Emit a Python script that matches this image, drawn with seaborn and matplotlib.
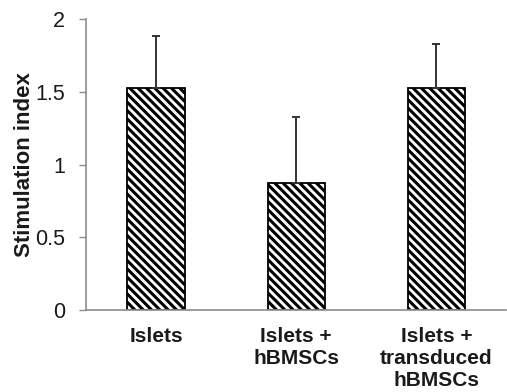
import matplotlib
matplotlib.use("Agg")
import matplotlib.pyplot as plt
import seaborn as sns
import pandas as pd
import numpy as np

categories = ["Islets", "Islets +\nhBMSCs", "Islets +\ntransduced\nhBMSCs"]
values = [1.525, 0.875, 1.525]
errors = [0.36, 0.45, 0.305]
yticks = [0, 0.5, 1, 1.5, 2]
ytick_labels = ["0", "0.5", "1", "1.5", "2"]

sns.set_theme(style="white")
plt.rcParams['font.family'] = ['Liberation Sans', 'DejaVu Sans']
plt.rcParams['hatch.linewidth'] = 2.2

df = pd.DataFrame({"group": categories, "value": values})

fig = plt.figure(figsize=(5.07, 3.92), dpi=100)
ax = fig.add_axes([86/507, 1-310/392, 1-86/507-0.001, (310-19)/392])

sns.barplot(data=df, x="group", y="value", ax=ax, color="white",
            edgecolor="black", linewidth=1.3, width=0.41, errorbar=None)
for p in ax.patches:
    p.set_hatch("\\\\\\\\")
    p.set_facecolor("white")
    p.set_edgecolor("black")

xs = np.arange(len(categories))
ax.errorbar(xs, values, yerr=[np.zeros(len(values)), errors], fmt="none",
            ecolor="#333333", elinewidth=1.4, capsize=3.2, capthick=1.4, zorder=3)

ax.set_xlim(-0.5, len(categories) - 0.5)
ax.set_ylim(0, 2)
ax.set_yticks(yticks)
ax.set_yticklabels(ytick_labels, fontsize=15.5, color="#1a1a1a")
ax.set_xticks(xs)
ax.set_xticklabels(categories, fontsize=15, fontweight="bold", color="#1a1a1a",
                   linespacing=1.22)
ax.set_xticks(np.arange(-0.5, len(categories)), minor=True)
ax.tick_params(axis="x", which="major", length=0, pad=12)
ax.tick_params(axis="x", which="minor", length=5, width=1, color="#8c8c8c", direction="out")
ax.tick_params(axis="y", which="major", length=5, width=1, color="#8c8c8c", direction="out", pad=10, left=True)

ax.set_xlabel("")
ax.set_ylabel("Stimulation index", fontsize=16, fontweight="bold", color="#1a1a1a")
ax.yaxis.set_label_coords(-0.122, 0.5)

for s in ["top", "right"]:
    ax.spines[s].set_visible(False)
for s in ["left", "bottom"]:
    ax.spines[s].set_color("#8c8c8c")
    ax.spines[s].set_linewidth(1.2)

fig.savefig("out.png", dpi=100)
